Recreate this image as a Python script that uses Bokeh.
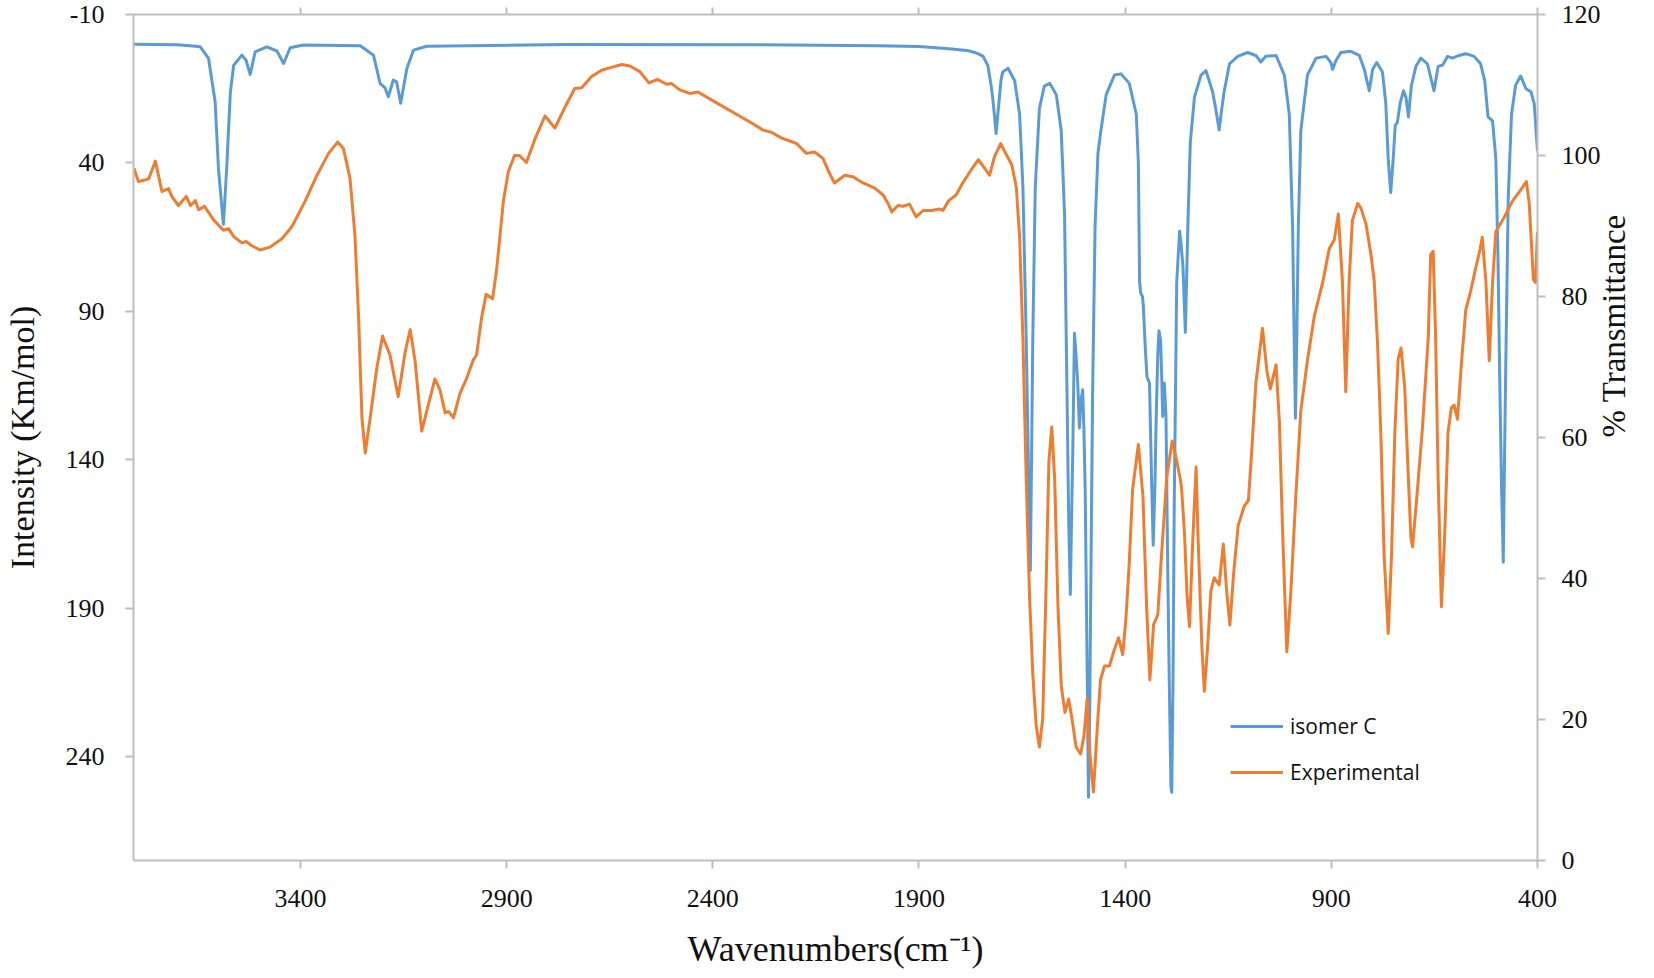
import math
from bokeh.plotting import figure
from bokeh.models import Range1d, LinearAxis, FixedTicker, Legend, LegendItem
from bokeh.embed import file_html
from bokeh.resources import INLINE

# ---------------- data ----------------
# calculated spectrum, isomer C: wavenumber (cm-1) / intensity (Km/mol)
blue_wn = [3804, 3700, 3660, 3643, 3623, 3607, 3599, 3587, 3579, 3570, 3562, 3542, 3532, 3522,
           3510, 3482, 3457, 3441, 3425, 3393, 3255, 3223, 3207, 3195, 3187, 3175, 3167, 3157,
           3142, 3126, 3094, 2755, 2300, 2000, 1900, 1820, 1780, 1760, 1745, 1733, 1725, 1721,
           1717, 1713, 1709, 1705, 1701, 1697, 1684, 1668, 1656, 1648, 1640, 1635, 1630, 1627,
           1624, 1618, 1608, 1596, 1583, 1567, 1555, 1547, 1541, 1537, 1533, 1530, 1527, 1523,
           1519, 1515, 1511, 1507, 1503, 1500, 1497, 1492, 1489, 1486, 1484, 1479, 1473, 1466,
           1460, 1446, 1426, 1410, 1390, 1373, 1368, 1365, 1362, 1358, 1356, 1351, 1347, 1341,
           1336, 1332, 1328, 1325, 1321, 1318, 1314, 1311, 1309, 1305, 1301, 1297, 1293, 1289,
           1287, 1284, 1281, 1275, 1268, 1264, 1260, 1254, 1248, 1242, 1232, 1216, 1204, 1188,
           1180, 1172, 1166, 1160, 1147, 1127, 1103, 1083, 1071, 1059, 1034, 1014, 1002, 994,
           990, 987, 984, 980, 974, 958, 937, 913, 901, 897, 889, 877, 853, 832, 820, 808, 800,
           790, 776, 768, 762, 756, 750, 745, 740, 733, 725, 719, 713, 706, 695, 683, 667, 651,
           641, 630, 618, 606, 590, 574, 554, 538, 528, 520, 509, 501, 496, 491, 487, 483, 480,
           477, 471, 463, 453, 441, 428, 416, 408, 403, 400]
blue_int = [0.0, 0.2, 0.6, 0.9, 4.8, 19.4, 41.8, 60.7, 41.8, 16.0, 7.1, 3.7, 5.4, 10.2,
            2.6, 0.9, 2.3, 6.5, 1.2, 0.3, 0.5, 3.7, 13.2, 14.7, 17.7, 12.1, 12.7, 19.9,
            8.2, 2.0, 0.7, 0.1, 0.2, 0.5, 0.8, 1.6, 2.2, 3.0, 4.0, 7.2, 14.0, 18.3,
            24.0, 30.1, 24.0, 17.9, 12.0, 9.4, 8.1, 12.3, 23.6, 48.1, 99.0, 140.0, 177.3, 140.0,
            99.0, 48.1, 21.7, 14.1, 13.2, 17.0, 29.2, 57.5, 117.9, 160.0, 185.4, 160.0, 136.8, 97.4,
            105.0, 114.1, 129.3, 120.0, 116.4, 130.0, 150.0, 212.2, 253.7, 225.0, 193.3, 117.9, 61.3, 36.8,
            30.2, 17.0, 10.4, 10.0, 13.2, 23.6, 40.0, 80.0, 84.0, 85.0, 88.0, 102.8, 112.2, 114.1,
            146.2, 168.8, 150.0, 127.3, 105.0, 96.5, 100.0, 114.1, 125.4, 114.1, 125.4, 174.5, 215.0, 250.0,
            252.0, 215.0, 155.6, 80.2, 63.0, 68.0, 74.5, 97.1, 61.3, 33.0, 17.9, 10.4, 8.9, 16.0,
            22.0, 28.9, 22.0, 16.0, 6.6, 4.1, 2.8, 3.8, 6.0, 4.1, 3.8, 10.4, 23.6, 61.3,
            100.0, 126.0, 100.0, 61.3, 29.2, 10.4, 4.7, 4.1, 6.2, 8.5, 5.6, 2.8, 2.4, 3.8, 8.5, 15.7, 8.5,
            6.2, 9.4, 19.8, 38.7, 50.0, 38.7, 27.3, 26.4, 19.8, 15.7, 17.9, 24.5, 14.1, 7.5, 4.7, 6.6, 15.7,
            7.5, 7.0, 4.1, 4.7, 3.8, 3.2, 4.1, 6.6, 12.3, 24.5, 25.8, 38.7, 70.7, 117.9, 150.0, 174.5, 140.0,
            108.5, 51.9, 23.6, 13.8, 10.7, 15.0, 16.0, 20.0, 30.0, 36.0]

# experimental spectrum: wavenumber (cm-1) / % transmittance
exp_wn = [3804, 3793, 3780, 3768, 3752, 3736, 3720, 3712, 3696, 3677, 3667, 3655, 3647, 3633,
          3611, 3587, 3574, 3562, 3542, 3532, 3518, 3498, 3474, 3445, 3421, 3389, 3360, 3332,
          3310, 3296, 3280, 3268, 3259, 3251, 3243, 3231, 3215, 3201, 3183, 3163, 3146, 3134,
          3122, 3106, 3094, 3074, 3062, 3049, 3041, 3029, 3013, 2997, 2981, 2973, 2961, 2950,
          2934, 2924, 2908, 2896, 2881, 2869, 2852, 2831, 2807, 2783, 2759, 2735, 2718, 2694,
          2670, 2646, 2621, 2601, 2577, 2555, 2534, 2512, 2500, 2480, 2456, 2436, 2395, 2347,
          2306, 2278, 2258, 2234, 2197, 2173, 2153, 2133, 2119, 2105, 2080, 2060, 2036, 2008,
          1987, 1975, 1966, 1951, 1939, 1923, 1907, 1890, 1870, 1850, 1842, 1828, 1810, 1794,
          1773, 1756, 1741, 1729, 1717, 1702, 1688, 1675, 1664, 1656, 1648, 1640, 1632, 1624,
          1616, 1608, 1600, 1592, 1585, 1578, 1571, 1563, 1555, 1546, 1537, 1529, 1519, 1508,
          1500, 1492, 1487, 1477, 1468, 1460, 1450, 1438, 1428, 1416, 1406, 1398, 1390, 1382,
          1368, 1357, 1348, 1340, 1331, 1321, 1313, 1299, 1286, 1276, 1266, 1263, 1256, 1250,
          1244, 1236, 1228, 1223, 1214, 1208, 1200, 1192, 1184, 1172, 1162, 1154, 1146, 1137,
          1126, 1111, 1101, 1093, 1083, 1067, 1056, 1048, 1034, 1026, 1018, 1008, 998, 986,
          974, 958, 941, 921, 905, 893, 883, 873, 865, 857, 849, 836, 828, 816, 804, 796, 788,
          780, 772, 762, 754, 746, 738, 731, 722, 715, 707, 703, 693, 679, 665, 659, 653, 647,
          641, 633, 625, 617, 609, 602, 594, 584, 574, 562, 550, 539, 534, 525, 517, 509, 501,
          481, 461, 441, 427, 420, 410, 405, 400]
exp_t = [98.2, 96.3, 96.5, 96.7, 99.2, 94.9, 95.3, 94.2, 92.9, 94.2, 92.9, 93.6, 92.3, 92.8,
         90.9, 89.4, 89.6, 88.5, 87.6, 87.8, 87.2, 86.6, 87.0, 88.2, 89.9, 93.5, 97.2, 100.3,
         101.9, 101.0, 96.8, 88.7, 76.9, 62.8, 57.8, 62.8, 69.8, 74.4, 71.7, 65.8, 72.2, 75.3,
         70.8, 60.9, 63.7, 68.3, 66.8, 63.5, 63.7, 62.8, 66.3, 68.4, 71.0, 71.7, 76.9, 80.3,
         79.7, 84.0, 93.5, 97.7, 100.0, 100.0, 99.0, 102.4, 105.6, 103.9, 106.8, 109.5, 109.6, 111.2,
         112.1, 112.5, 112.9, 112.7, 111.9, 110.3, 110.8, 110.1, 110.2, 109.3, 108.8, 109.0, 107.6, 106.0,
         104.6, 103.6, 103.3, 102.5, 101.7, 100.3, 100.5, 99.6, 97.7, 96.1, 97.2, 97.0, 96.1, 95.4,
         94.4, 93.2, 92.0, 92.9, 92.8, 93.1, 91.3, 92.2, 92.2, 92.4, 92.2, 93.6, 94.4, 96.1,
         98.0, 99.4, 98.2, 97.2, 99.8, 101.7, 100.1, 98.7, 95.5, 88.4, 74.1, 54.2, 37.6, 26.4,
         19.3, 16.1, 20.1, 38.3, 56.6, 61.5, 54.2, 36.0, 24.8, 21.0, 22.9, 20.1, 16.1, 15.1,
         17.7, 23.0, 16.1, 9.7, 18.5, 25.6, 27.6, 27.6, 29.6, 31.6, 29.2, 34.4, 42.3, 52.6,
         59.0, 51.8, 36.0, 25.6, 33.5, 34.8, 42.3, 54.5, 59.5, 57.0, 54.0, 52.6, 46.3, 37.6,
         33.2, 45.5, 55.8, 45.5, 30.4, 24.0, 30.4, 38.3, 40.1, 39.1, 44.9, 38.3, 33.4, 40.7,
         47.5, 50.3, 51.1, 58.2, 67.7, 75.5, 69.3, 66.9, 70.3, 62.2, 46.3, 29.6, 38.3, 51.8,
         63.8, 70.9, 77.3, 82.0, 86.8, 88.0, 91.7, 82.0, 66.5, 82.0, 90.8, 93.2, 92.5, 90.3, 86.0, 82.2, 73.4,
         60.7, 43.3, 32.2, 43.3, 60.7, 71.1, 72.7, 67.1, 56.8, 45.7, 44.5, 51.3, 61.4, 74.1, 86.0, 86.4, 74.1,
         54.2, 36.0, 46.3, 60.7, 64.2, 64.6, 62.6, 70.9, 78.1, 80.8, 84.0, 86.8, 88.4, 82.0, 70.9, 82.0, 89.2,
         91.2, 93.5, 95.1, 96.3, 93.2, 82.4, 82.0, 89.2]

x_ticks = [400, 900, 1400, 1900, 2400, 2900, 3400]
left_ticks = [-10, 40, 90, 140, 190, 240]
right_ticks = [0, 20, 40, 60, 80, 100, 120]

series_names = ["isomer C", "Experimental"]
series_colors = ["#5B9BD5", "#ED7D31"]

# ---------------- figure ----------------
AXIS_GREY = "#BDBDBD"
SERIF = "Liberation Serif"

p = figure(width=1652, height=976, output_backend="svg", toolbar_location=None,
           x_range=Range1d(3805, 400), y_range=Range1d(275, -10),
           min_border_left=132, min_border_right=115, min_border_top=14, min_border_bottom=116)
p.extra_y_ranges = {"t": Range1d(0, 120)}
p.xgrid.visible = False
p.ygrid.visible = False
p.outline_line_color = None
p.background_fill_color = "white"


def style_axis(ax, size="25px"):
    ax.axis_line_color = AXIS_GREY
    ax.axis_line_width = 2
    ax.major_tick_line_color = AXIS_GREY
    ax.major_tick_line_width = 2
    ax.major_tick_out = 8
    ax.major_tick_in = 0
    ax.minor_tick_out = 0
    ax.minor_tick_in = 0
    ax.major_label_text_font = SERIF
    ax.major_label_text_font_size = size
    ax.major_label_text_color = "#111111"
    ax.axis_label_text_font = SERIF
    ax.axis_label_text_font_style = "normal"
    ax.axis_label_text_color = "#111111"


# bottom axis
xa = p.xaxis[0]
xa.ticker = FixedTicker(ticks=x_ticks)
style_axis(xa, size="26px")
xa.major_label_standoff = 21
xa.axis_label = "Wavenumbers(cm\u207b\u00b9)"
xa.axis_label_text_font_size = "36px"
xa.axis_label_standoff = 19

# left axis
ya = p.yaxis[0]
ya.ticker = FixedTicker(ticks=left_ticks)
style_axis(ya, size="26px")
ya.major_label_overrides = {-10: "-10"}
ya.major_label_standoff = 21
ya.axis_label = "Intensity (Km/mol)"
ya.axis_label_text_font_size = "34px"
ya.axis_label_standoff = 22

# top axis (ticks only)
top = LinearAxis(ticker=FixedTicker(ticks=x_ticks))
style_axis(top, size="5px")
top.major_label_text_alpha = 0
top.major_tick_out = 7
top.major_label_standoff = 0
p.add_layout(top, "above")

# right axis
ra = LinearAxis(y_range_name="t", ticker=FixedTicker(ticks=right_ticks))
style_axis(ra, size="26px")
ra.major_label_standoff = 16
ra.axis_label = "% Transmittance"
ra.axis_label_text_font_size = "33px"
ra.axis_label_standoff = 10
try:
    ra.axis_label_orientation = math.pi / 2
except Exception:
    pass
p.add_layout(ra, "right")

# series
rb = p.line(blue_wn, blue_int, line_color=series_colors[0], line_width=3, line_join="round")
ro = p.line(exp_wn, exp_t, y_range_name="t", line_color=series_colors[1], line_width=3,
            line_join="round")

legend = Legend(items=[LegendItem(label=series_names[0], renderers=[rb]),
                       LegendItem(label=series_names[1], renderers=[ro])],
                location=(1097, 74), border_line_color=None, background_fill_alpha=0,
                padding=0, margin=0, glyph_width=53, glyph_height=28, label_height=28,
                spacing=18, label_standoff=7, label_text_font="Open Sans",
                label_text_font_size="21px", label_text_color="#111111")
p.add_layout(legend)

open("out.html", "w").write(file_html(p, INLINE))
